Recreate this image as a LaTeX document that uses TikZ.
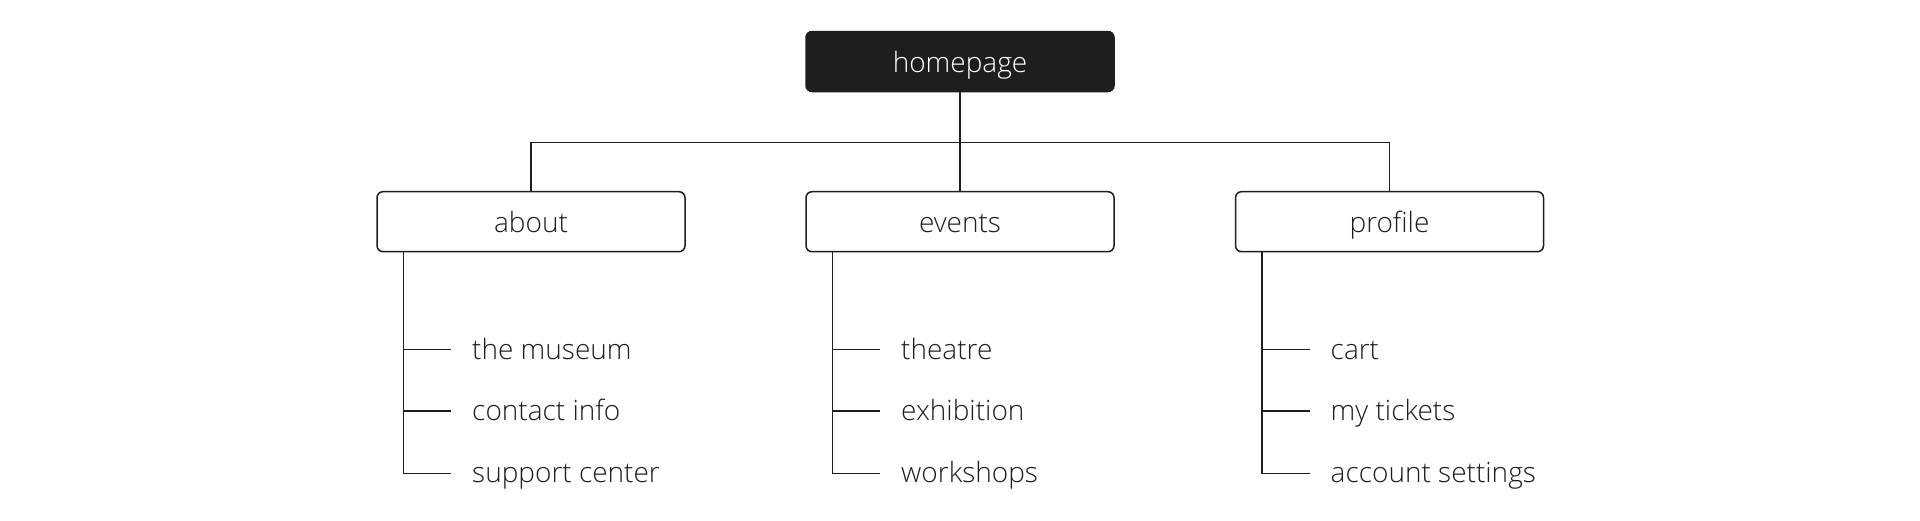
\documentclass[tikz,border=0pt]{standalone}
\usepackage{fontspec}
\setmainfont{Open Sans}[UprightFont=* Light, Ligatures=NoCommon]
\begin{document}
\begin{tikzpicture}[x=1pt,y=-1pt,
  every node/.style={font=\fontsize{28}{34}\selectfont, text=ink},
  box/.style={draw=ink, line width=1.5pt, rounded corners=6pt, minimum width=308pt, minimum height=60pt, inner sep=0pt, fill=white, text height=22pt, text depth=0pt},
  topbox/.style={box, fill=ink, text=white},
  leaf/.style={anchor=base west, inner sep=0pt},
  link/.style={draw=ink, line width=1.5pt}]
\definecolor{ink}{HTML}{1E1E1E}
\useasboundingbox (0,0) rectangle (1920,520);
\node[topbox] (home) at (960,61.5) {homepage};
\node[box] (about) at (531,221.7) {about};
\node[box] (events) at (960,221.7) {events};
\node[box] (profile) at (1389.5,221.7) {profile};
\coordinate (bus) at (960,142.3);
\draw[link] (home.south) -- (events.north);
\draw[link] (about.north) |- (bus) -| (profile.north);
% about
\coordinate (a0) at ([xshift=27pt]about.south west);
\coordinate (at1) at (451,349.7);
\coordinate (at2) at (451,411);
\coordinate (at3) at (451,473.3);
\node[leaf] (a1) at ([shift={(21,9.5)}]at1) {the museum};
\node[leaf] (a2) at ([shift={(21,9.5)}]at2) {contact info};
\node[leaf] (a3) at ([shift={(21,9.5)}]at3) {support center};
\draw[link] (a0) |- (at3);
\draw[link] (a0) |- (at2);
\draw[link] (a0) |- (at1);
% events
\coordinate (e0) at ([xshift=27pt]events.south west);
\coordinate (et1) at (880,349.7);
\coordinate (et2) at (880,411);
\coordinate (et3) at (880,473.3);
\node[leaf] (e1) at ([shift={(21,9.5)}]et1) {theatre};
\node[leaf] (e2) at ([shift={(21,9.5)}]et2) {exhibition};
\node[leaf] (e3) at ([shift={(21,9.5)}]et3) {workshops};
\draw[link] (e0) |- (et3);
\draw[link] (e0) |- (et2);
\draw[link] (e0) |- (et1);
% profile
\coordinate (p0) at ([xshift=27pt]profile.south west);
\coordinate (pt1) at (1309.5,349.7);
\coordinate (pt2) at (1309.5,411);
\coordinate (pt3) at (1309.5,473.3);
\node[leaf] (p1) at ([shift={(21,9.5)}]pt1) {cart};
\node[leaf] (p2) at ([shift={(21,9.5)}]pt2) {my tickets};
\node[leaf] (p3) at ([shift={(21,9.5)}]pt3) {account settings};
\draw[link] (p0) |- (pt3);
\draw[link] (p0) |- (pt2);
\draw[link] (p0) |- (pt1);
\end{tikzpicture}
\end{document}
